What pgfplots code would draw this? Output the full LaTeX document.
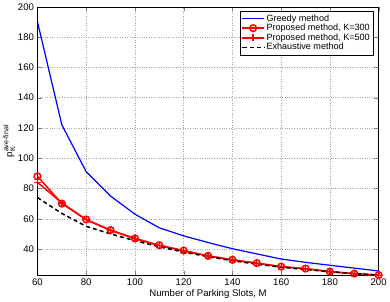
\documentclass[border=0pt]{standalone}
\usepackage{pgfplots}
\pgfplotsset{compat=1.18}
\usepackage{fontspec}
\setmainfont{Liberation Sans}
\begin{document}
\begin{tikzpicture}
\begin{axis}[
  scale only axis,
  width=338pt, height=266pt,
  xmin=60, xmax=200, ymin=22.7, ymax=200,
  xtick={60,80,...,200}, ytick={40,60,...,200},
  grid=major,
  major grid style={dotted, gray!70},
  tick align=inside,
  tick pos=both,
  /pgf/number format/assume math mode=true,
  ticklabel style={font=\fontsize{9.5}{10}\selectfont},
  xlabel={Number of Parking Slots, M},
  ylabel={p$_{\mbox{\fontsize{7}{8}\selectfont K}}^{\mbox{\fontsize{7}{8}\selectfont ave-final}}$},
  label style={font=\fontsize{9.5}{10}\selectfont},
  xlabel style={yshift=3pt},
  ylabel style={yshift=-4pt},
  legend style={at={(0.985,0.985)}, anchor=north east, font=\fontsize{9}{10}\selectfont, row sep=-2.5pt, inner sep=1.5pt, draw=black},
  legend image code/.code={\draw[mark repeat=2,mark phase=2] plot coordinates {(0cm,0cm) (0.37cm,0cm) (0.74cm,0cm)};},
  legend cell align=left,
]
\addplot[blue, line width=1.2pt] coordinates {
(60,190) (70,122) (80,91) (90,75) (100,63) (110,54) (120,48.7) (130,44.3) (140,40.2) (150,36.8) (160,33.4) (170,31.2) (180,29.3) (190,27.4) (200,25.5)};
\addlegendentry{Greedy method}
\addplot[red, line width=1.5pt, mark=o, mark size=3.3pt, mark options={line width=1.5pt}] coordinates {
(60,88) (70,70) (80,59.5) (90,52.5) (100,47) (110,42.5) (120,39) (130,35.5) (140,32.9) (150,30.7) (160,28.4) (170,27.1) (180,25.1) (190,23.8) (200,22.8)};
\addlegendentry{Proposed method, K=300}
\addplot[red, line width=1.5pt, mark=+, mark size=3.3pt, mark options={line width=1.3pt}] coordinates {
(60,84) (70,70.5) (80,59.3) (90,52.3) (100,46.8) (110,42.3) (120,38.8) (130,35.4) (140,32.8) (150,30.6) (160,28.3) (170,27) (180,25) (190,23.7) (200,22.7)};
\addlegendentry{Proposed method, K=500}
\addplot[black, dash pattern=on 4pt off 3pt, line width=1.5pt] coordinates {
(60,74) (70,63.5) (80,55) (90,50) (100,45.5) (110,41.5) (120,38) (130,35) (140,32.3) (150,30) (160,28) (170,26.5) (180,25) (190,23.8) (200,22.8)};
\addlegendentry{Exhaustive method}
\end{axis}
\end{tikzpicture}
\end{document}
